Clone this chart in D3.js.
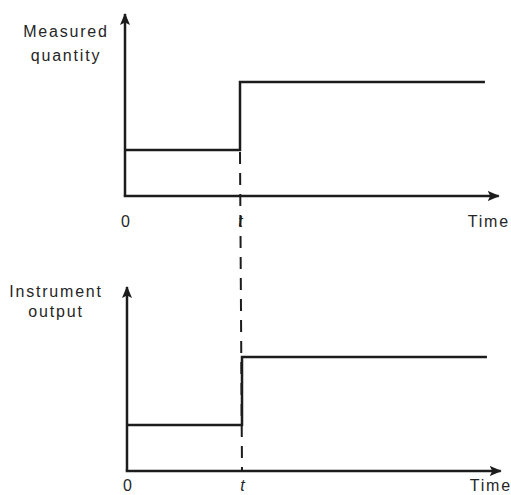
<!DOCTYPE html>
<html>
<head>
<meta charset="utf-8">
<script src="https://cdn.jsdelivr.net/npm/d3@7/dist/d3.min.js"></script>
<style>
  html, body { margin: 0; padding: 0; background: #fff; }
  svg { display: block; }
  text { font-family: "Liberation Sans", Arial, sans-serif; fill: #262626; }
</style>
</head>
<body>
<svg id="chart" width="511" height="495"></svg>
<script>
// ---- data ----
const tickValues = [0, 1];            // time positions of the tick labels
const tickLabels = ["0", "t"];         // tick label texts
const signalTimes = [0, 1, 3.13];      // start, step instant, end of trace
const measuredLevels = [1, 2.48, 2.48];   // measured quantity (low, high, high)
const outputLevels = [1, 2.48, 2.48];     // instrument output (low, high, high)
const yLabelsTop = ["Measured", "quantity"];
const yLabelsBottom = ["Instrument", "output"];
const xLabel = "Time";
const timeMax = 3.25;
const levelMax = 4;

const svg = d3.select("#chart");
const ink = "#1c1c1c";

const defs = svg.append("defs");
defs.append("marker")
  .attr("id", "arrow")
  .attr("viewBox", "0 0 12 10")
  .attr("refX", 11).attr("refY", 5)
  .attr("markerWidth", 12).attr("markerHeight", 10)
  .attr("markerUnits", "userSpaceOnUse")
  .attr("orient", "auto")
  .append("path").attr("d", "M0,0 L12,5 L0,10 L2.5,5 Z").attr("fill", ink);

const panels = [
  { x0: 125, y0: 196, h: 182, values: measuredLevels, ylab: yLabelsTop, labX: 66, labY: [37, 61], tickY: 31 },
  { x0: 127, y0: 471, h: 184, values: outputLevels, ylab: yLabelsBottom, labX: 56, labY: [297, 317], tickY: 20 }
];

panels.forEach(p => {
  p.x = d3.scaleLinear().domain([0, timeMax]).range([p.x0, p.x0 + 373.75]);
  p.y = d3.scaleLinear().domain([0, levelMax]).range([p.y0, p.y0 - p.h]);
});

panels.forEach(p => {
  const g = svg.append("g");
  const u = 46 / (p.h / levelMax); // keep levels at same pixel height in both panels
  // y axis with arrow
  g.append("line")
    .attr("x1", p.x(0)).attr("y1", p.y(0))
    .attr("x2", p.x(0)).attr("y2", p.y(levelMax))
    .attr("stroke", ink).attr("stroke-width", 2.5)
    .attr("marker-end", "url(#arrow)");
  // x axis with arrow
  g.append("line")
    .attr("x1", p.x(0) - 1.25).attr("y1", p.y(0))
    .attr("x2", p.x(timeMax)).attr("y2", p.y(0))
    .attr("stroke", ink).attr("stroke-width", 2.5)
    .attr("marker-end", "url(#arrow)");

  // tick labels through d3 axis
  const ax = g.append("g")
    .attr("transform", `translate(0,${p.y(0)})`)
    .call(d3.axisBottom(p.x).tickValues(tickValues).tickSize(0)
      .tickFormat((d, i) => tickLabels[i]));
  ax.select(".domain").remove();
  ax.selectAll("text")
    .attr("y", p.tickY).attr("dy", 0)
    .style("font-size", "16px")
    .style("font-family", "'Liberation Sans', Arial, sans-serif")
    .attr("fill", "#262626")
    .style("font-style", (d, i) => i === 1 ? "italic" : "normal");

  // x label
  g.append("text")
    .attr("x", p.x(timeMax) - 31).attr("y", p.y(0) + p.tickY)
    .style("font-size", "16px").style("letter-spacing", "1.8px")
    .text(xLabel);

  // y label
  p.ylab.forEach((s, i) => {
    g.append("text")
      .attr("x", p.labX).attr("y", p.labY[i])
      .attr("text-anchor", "middle")
      .style("font-size", "16px").style("letter-spacing", "1.8px")
      .text(s);
  });

  // step signal
  const pts = signalTimes.map((t, i) => [t, p.values[i] * u]);
  const line = d3.line().x(d => p.x(d[0])).y(d => p.y(d[1])).curve(d3.curveStepAfter);
  g.append("path")
    .attr("d", line(pts))
    .attr("fill", "none").attr("stroke", ink).attr("stroke-width", 2.5);
  p.u = u;
});

// dashed line at the step instant, linking both panels
const topPanel = panels[0], botPanel = panels[1];
svg.append("line")
  .attr("x1", topPanel.x(signalTimes[1])).attr("y1", topPanel.y(measuredLevels[0] * topPanel.u) + 2)
  .attr("x2", botPanel.x(signalTimes[1])).attr("y2", botPanel.y(0))
  .attr("stroke", ink).attr("stroke-width", 2)
  .attr("stroke-dasharray", "12,9");
</script>
</body>
</html>
